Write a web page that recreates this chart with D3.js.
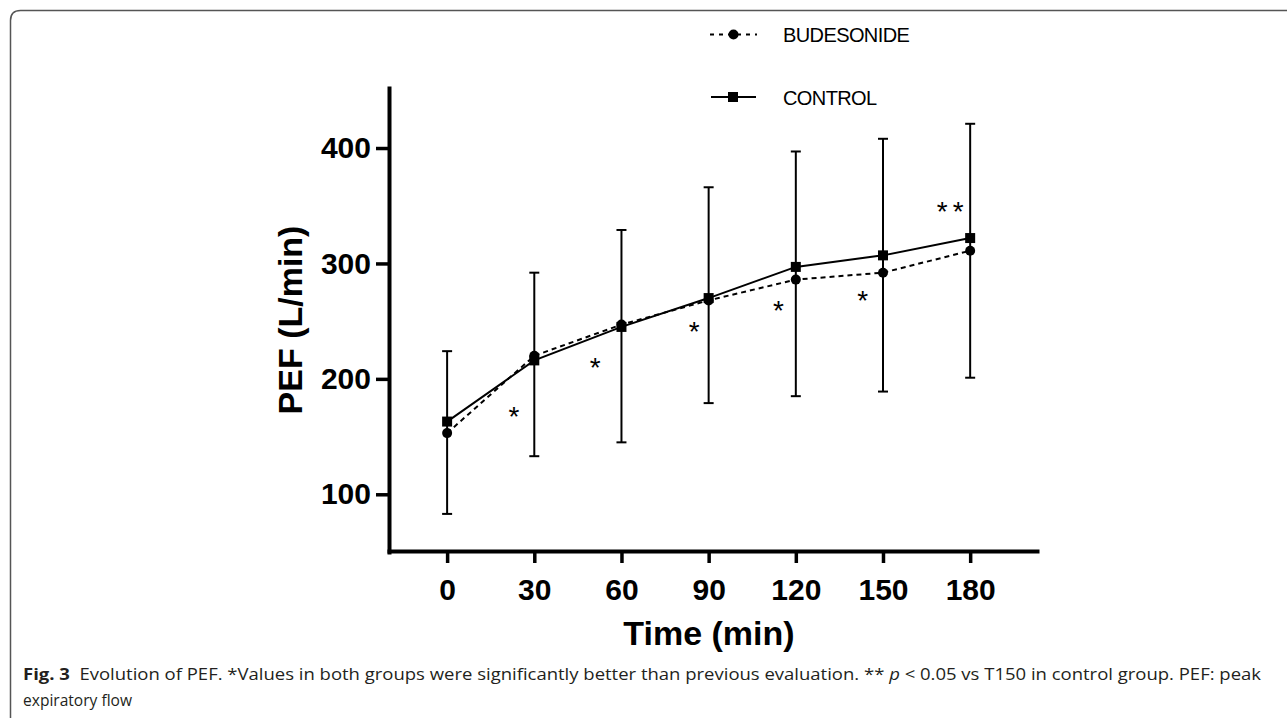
<!DOCTYPE html>
<html>
<head>
<meta charset="utf-8">
<script src="https://cdn.jsdelivr.net/npm/d3@7"></script>
<style>
  body { margin: 0; background: #fff; }
  svg { display: block; }
</style>
</head>
<body>
<script>
// data
const times = [0, 30, 60, 90, 120, 150, 180];
const budesonide = [153, 220, 247, 268, 286, 292, 311];
const control = [163, 216, 245, 270, 297, 307, 322];
const errUpper = [224, 292, 329, 366, 397, 408, 421];
const errLower = [83, 133, 145, 179, 185, 189, 201];
const yTicks = [100, 200, 300, 400];
// significance marks (position in data units)
const starX = [23, 51, 85, 114, 143, 174];
const starY = [172, 215, 246, 264, 273, 350];
const starText = ["*", "*", "*", "*", "*", "**"];

const width = 1287;
const height = 718;

const svg = d3.select("body")
  .append("svg")
  .attr("width", width)
  .attr("height", height);

// frame of the figure
svg.append("path")
  .attr("d", "M10.5,718 L10.5,20.5 Q10.5,10.5 20.5,10.5 L1287,10.5")
  .attr("fill", "none")
  .attr("stroke", "#555")
  .attr("stroke-width", 1.5);

// scales
const xScale = d3.scaleLinear().domain([-20, 203]).range([389, 1037]);
const yScale = d3.scaleLinear().domain([50, 452]).range([552, 88]);

// axes
const leftAxis = d3.axisLeft(yScale)
  .tickValues(yTicks)
  .tickSize(13)
  .tickSizeOuter(0)
  .tickPadding(5);

const bottomAxis = d3.axisBottom(xScale)
  .tickValues(times)
  .tickSize(12)
  .tickSizeOuter(0)
  .tickPadding(16);

const gy = svg.append("g")
  .attr("transform", "translate(389,0)")
  .call(leftAxis);

const gx = svg.append("g")
  .attr("transform", "translate(0,551)")
  .call(bottomAxis);

[gx, gy].forEach(g => {
  g.select(".domain").attr("stroke", "#000").attr("stroke-width", 4).attr("stroke-linecap", "square");
  g.selectAll(".tick line").attr("stroke", "#000").attr("stroke-width", 3.5);
  g.selectAll(".tick text")
    .attr("fill", "#000")
    .style("font-family", "'Liberation Sans', Arial, sans-serif")
    .style("font-weight", "bold")
    .style("font-size", "30px");
});

// axis titles
svg.append("text")
  .attr("x", 709)
  .attr("y", 645)
  .attr("text-anchor", "middle")
  .style("font-family", "'Liberation Sans', Arial, sans-serif")
  .style("font-weight", "bold")
  .style("font-size", "34px")
  .text("Time (min)");

svg.append("text")
  .attr("transform", "translate(302,320) rotate(-90)")
  .attr("text-anchor", "middle")
  .style("font-family", "'Liberation Sans', Arial, sans-serif")
  .style("font-weight", "bold")
  .style("font-size", "34px")
  .text("PEF (L/min)");

// error bars
const capW = 5;
times.forEach((t, i) => {
  const x = xScale(t);
  const g = svg.append("g").attr("stroke", "#000").attr("stroke-width", 2);
  g.append("line").attr("x1", x).attr("x2", x).attr("y1", yScale(errUpper[i])).attr("y2", yScale(errLower[i]));
  g.append("line").attr("x1", x - capW).attr("x2", x + capW).attr("y1", yScale(errUpper[i])).attr("y2", yScale(errUpper[i]));
  g.append("line").attr("x1", x - capW).attr("x2", x + capW).attr("y1", yScale(errLower[i])).attr("y2", yScale(errLower[i]));
});

// lines
const line = d3.line()
  .x((d, i) => xScale(times[i]))
  .y(d => yScale(d));

svg.append("path")
  .datum(budesonide)
  .attr("d", line)
  .attr("fill", "none")
  .attr("stroke", "#000")
  .attr("stroke-width", 2)
  .attr("stroke-dasharray", "5,4");

svg.append("path")
  .datum(control)
  .attr("d", line)
  .attr("fill", "none")
  .attr("stroke", "#000")
  .attr("stroke-width", 2);

// markers
svg.selectAll("circle.bud")
  .data(budesonide)
  .enter()
  .append("circle")
  .attr("class", "bud")
  .attr("cx", (d, i) => xScale(times[i]))
  .attr("cy", d => yScale(d))
  .attr("r", 5)
  .attr("fill", "#000");

svg.selectAll("rect.ctl")
  .data(control)
  .enter()
  .append("rect")
  .attr("class", "ctl")
  .attr("x", (d, i) => xScale(times[i]) - 5)
  .attr("y", d => yScale(d) - 5)
  .attr("width", 10)
  .attr("height", 10)
  .attr("fill", "#000");

// asterisks
svg.selectAll("text.star")
  .data(starText)
  .enter()
  .append("text")
  .attr("class", "star")
  .attr("x", (d, i) => xScale(starX[i]))
  .attr("y", (d, i) => yScale(starY[i]) + 15)
  .attr("text-anchor", "middle")
  .attr("letter-spacing", d => d.length > 1 ? 5 : 0)
  .style("font-family", "'Liberation Sans', Arial, sans-serif")
  .style("font-size", "28px")
  .text(d => d);

// legend
const legend = svg.append("g");
const legFont = "'Liberation Sans', Arial, sans-serif";

legend.append("line")
  .attr("x1", 710).attr("x2", 757).attr("y1", 34.5).attr("y2", 34.5)
  .attr("stroke", "#000").attr("stroke-width", 2).attr("stroke-dasharray", "4,5");
legend.append("circle").attr("cx", 733.5).attr("cy", 34.5).attr("r", 5).attr("fill", "#000");
legend.append("text")
  .attr("x", 783).attr("y", 42)
  .style("font-family", legFont).style("font-size", "20px")
  .attr("letter-spacing", -0.6)
  .text("BUDESONIDE");

legend.append("line")
  .attr("x1", 711).attr("x2", 756).attr("y1", 97).attr("y2", 97)
  .attr("stroke", "#000").attr("stroke-width", 2);
legend.append("rect").attr("x", 728).attr("y", 92).attr("width", 10).attr("height", 10).attr("fill", "#000");
legend.append("text")
  .attr("x", 783).attr("y", 104.5)
  .style("font-family", legFont).style("font-size", "20px")
  .attr("letter-spacing", -0.6)
  .text("CONTROL");

// caption
const cap = svg.append("text")
  .attr("x", 23).attr("y", 680)
  .attr("fill", "#231f20")
  .attr("textLength", 1238)
  .attr("lengthAdjust", "spacingAndGlyphs")
  .style("font-family", "'Open Sans', 'Noto Sans', sans-serif")
  .style("font-size", "16px");
cap.append("tspan").style("font-weight", "bold").text("Fig. 3");
cap.append("tspan").text("\u00a0 Evolution of PEF. *Values in both groups were significantly better than previous evaluation. ** ");
cap.append("tspan").style("font-style", "italic").text("p");
cap.append("tspan").text(" < 0.05 vs T150 in control group. PEF: peak");

svg.append("text")
  .attr("x", 23).attr("y", 706)
  .attr("fill", "#231f20")
  .attr("textLength", 109)
  .attr("lengthAdjust", "spacingAndGlyphs")
  .style("font-family", "'Open Sans', 'Noto Sans', sans-serif")
  .style("font-size", "16px")
  .text("expiratory flow");
</script>
</body>
</html>
